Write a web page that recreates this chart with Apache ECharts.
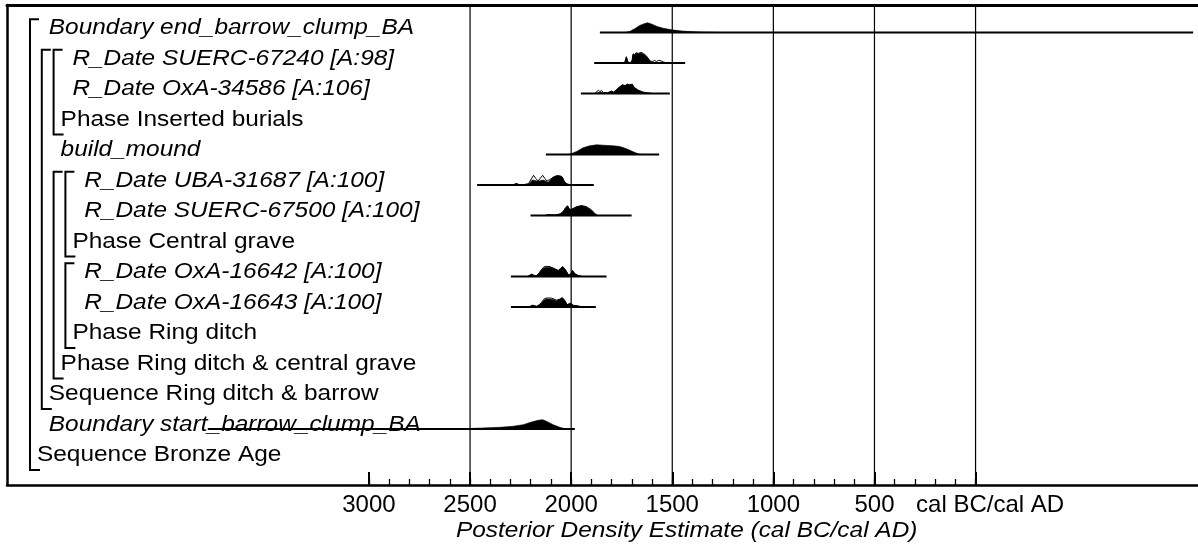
<!DOCTYPE html>
<html>
<head>
<meta charset="utf-8">
<title>Posterior Density Estimate</title>
<style>
  html, body { margin: 0; padding: 0; background: #fff; }
  #chart { width: 1198px; height: 549px; }
</style>
<script src="https://cdn.jsdelivr.net/npm/echarts@6/dist/echarts.min.js"></script>
</head>
<body>
<div id="chart"></div>
<script>
// ---- Model rows, top to bottom (latest first, as OxCal lists them) ----
const rowNames = [
  'Boundary end_barrow_clump_BA',
  'R_Date SUERC-67240 [A:98]',
  'R_Date OxA-34586 [A:106]',
  'Phase Inserted burials',
  'build_mound',
  'R_Date UBA-31687 [A:100]',
  'R_Date SUERC-67500 [A:100]',
  'Phase Central grave',
  'R_Date OxA-16642 [A:100]',
  'R_Date OxA-16643 [A:100]',
  'Phase Ring ditch',
  'Phase Ring ditch & central grave',
  'Sequence Ring ditch & barrow',
  'Boundary start_barrow_clump_BA',
  'Sequence Bronze Age'
];
const rowKinds = ['Boundary', 'R_Date', 'R_Date', 'Phase', 'Date', 'R_Date', 'R_Date', 'Phase',
                  'R_Date', 'R_Date', 'Phase', 'Phase', 'Sequence', 'Boundary', 'Sequence'];
const rowDepth = [1, 3, 3, 2, 2, 4, 4, 3, 4, 4, 3, 2, 1, 1, 0];

// Groups: [first member row, label row]
const groupSpans = [[0, 14], [1, 12], [1, 3], [5, 11], [5, 7], [8, 10]];

// ---- Distributions (years cal BC; negative = cal AD) ----
const distRows = [0, 1, 2, 4, 5, 6, 8, 9, 13];
const distRanges = [
  [1858, -1076], [1886, 1436], [1952, 1512], [2125, 1565], [2465, 1888],
  [2201, 1701], [2298, 1825], [2298, 1878], [3797, 1982]
];

// Posterior densities: [cal BC, relative probability]
const postEndBoundary = [[1735,0],[1711,1],[1686,3.7],[1661,7],[1636,9],[1622,9.7],[1600,8.3],[1575,6],[1545,4.3],[1503,2.7],[1450,1.4],[1390,0.7],[1330,0.3],[1260,0]];
const postSUERC67240 = [[1745,0],[1735,0.5],[1727,6],[1719,0.8],[1705,0.3],[1698,3],[1694,8.7],[1686,8.2],[1678,9.7],[1668,9.2],[1655,10],[1642,8.7],[1630,7],[1618,4],[1610,1.5],[1600,0.5],[1585,0.3],[1560,0.2],[1530,0]];
const postOxA34586 = [[1880,0],[1867,0.8],[1855,1.2],[1840,0.5],[1820,0.5],[1809,1.5],[1800,2.3],[1790,1.3],[1775,4],[1759,6.7],[1746,8.7],[1734,7.7],[1723,9.3],[1710,8.7],[1698,9.3],[1688,6],[1669,3.3],[1644,1.3],[1620,0.5],[1600,0]];
const postBuildMound = [[2015,0],[2000,0.8],[1973,3],[1941,6.7],[1908,8.7],[1874,9.7],[1842,9.3],[1792,8.7],[1759,8],[1726,5.7],[1693,2.7],[1669,0.7],[1650,0]];
const postUBA31687 = [[2290,0],[2270,1.5],[2258,0.3],[2230,0.3],[2221,1],[2212,0.6],[2204,2],[2195,4.5],[2188,5],[2175,4.3],[2163,3.7],[2150,4.5],[2139,5],[2126,4],[2114,2.7],[2100,5.5],[2089,7.7],[2075,9],[2064,9.3],[2050,8.7],[2043,7.7],[2036,4.5],[2031,2.7],[2020,1],[2010,0.5],[1995,0.3],[1980,0]];
const postSUERC67500 = [[2130,0],[2114,0.8],[2080,0.5],[2055,1.5],[2040,3.7],[2030,7],[2018,9.7],[2010,7],[2006,5.7],[1993,6.7],[1973,8.7],[1949,9.7],[1924,8.3],[1899,5],[1883,1.7],[1870,0]];
const postOxA16642 = [[2215,0],[2196,2.3],[2180,0.8],[2171,1],[2158,3.5],[2146,6.7],[2130,9],[2105,9.3],[2086,8],[2064,6],[2052,8],[2043,10],[2035,8.5],[2026,6],[2016,2.5],[2010,1.3],[2000,3.5],[1993,6],[1982,2.7],[1965,1],[1945,0]];
const postOxA16643 = [[2210,0],[2191,1.7],[2171,0.7],[2158,2],[2146,4],[2135,6.7],[2122,8],[2097,7.7],[2072,6.3],[2056,7.7],[2044,9.3],[2031,6.3],[2020,2.3],[2003,3.7],[1990,1.7],[1965,1],[1945,0]];
const postStartBoundary = [[2650,0],[2501,0.5],[2352,1.7],[2287,2.7],[2237,4.3],[2196,7],[2163,8.7],[2141,9.3],[2122,7.7],[2089,4.3],[2056,1.7],[2031,0.3],[2015,0]];

// Unmodelled calibrated likelihoods (drawn as outlines)
const likeSUERC67240 = [[1745,0],[1735,0.5],[1727,6.3],[1719,0.8],[1705,0.3],[1698,3],[1694,9],[1686,8.7],[1678,10.3],[1668,9.6],[1655,10.5],[1642,9.5],[1630,7.5],[1618,4.5],[1610,2],[1598,1.5],[1588,2.5],[1578,1.5],[1568,2.6],[1556,2.2],[1545,1],[1530,0.3],[1515,0]];
const likeOxA34586 = [[1885,0],[1872,2],[1865,3.3],[1858,1.8],[1851,3],[1840,1],[1820,0.7],[1809,1.8],[1800,2.3],[1790,1.3],[1775,4],[1759,6.7],[1746,8.7],[1734,7.7],[1723,9.3],[1710,8.7],[1698,9.3],[1688,6],[1669,3.3],[1644,1.3],[1620,0.5],[1600,0]];
const likeUBA31687 = [[2290,0],[2270,1.5],[2258,0.3],[2230,0.3],[2221,1],[2212,1],[2200,5],[2186,9.7],[2175,6.5],[2163,4],[2152,7],[2141,9.7],[2130,6.5],[2119,4],[2105,5.5],[2089,7.7],[2075,9],[2064,9.3],[2050,8.7],[2043,7.7],[2036,4.5],[2031,2.7],[2020,1],[2010,0.5],[1995,0.3],[1980,0]];
const likeSUERC67500 = [[2130,0],[2114,0.8],[2080,0.5],[2055,1.5],[2040,3.7],[2030,7],[2018,9.7],[2010,7],[2006,5.7],[1993,6.7],[1973,8.7],[1949,9.9],[1924,8.8],[1899,5.5],[1883,1.9],[1870,0]];
const likeOxA16642 = [[2215,0],[2196,2.3],[2180,0.8],[2171,1],[2158,3.7],[2146,7.2],[2135,9.6],[2120,10.2],[2105,9.8],[2086,8.2],[2064,6],[2052,8],[2043,10],[2035,8.5],[2026,6],[2016,2.5],[2010,1.3],[2000,3.5],[1993,6],[1982,2.7],[1965,1],[1945,0]];
const likeOxA16643 = [[2210,0],[2191,1.7],[2171,0.7],[2158,2.2],[2146,4.8],[2135,7.8],[2122,9],[2097,8.9],[2072,6.8],[2056,7.9],[2044,9.3],[2031,6.3],[2020,2.3],[2003,3.7],[1990,1.7],[1965,1],[1945,0]];

const posteriors = [postEndBoundary, postSUERC67240, postOxA34586, postBuildMound, postUBA31687,
                    postSUERC67500, postOxA16642, postOxA16643, postStartBoundary];
const likelihoods = [null, likeSUERC67240, likeOxA34586, null, likeUBA31687,
                     likeSUERC67500, likeOxA16642, likeOxA16643, null];

// ---- Axis ----
const tickYears = [3000, 2500, 2000, 1500, 1000, 500, 0];
const tickLabels = ['3000', '2500', '2000', '1500', '1000', '500', 'cal BC/cal AD'];
const gridYears = [2500, 2000, 1500, 1000, 500, 0];
const axisTitle = 'Posterior Density Estimate (cal BC/cal AD)';

// ---- Layout ----
const X_MIN = -4790, X_MAX = 1100;          // axis value = -(cal BC)
const Y_MIN = -0.9016, Y_MAX = 14.836;      // row index, top to bottom
const ROW_PX = 30.5;
const DENS = 1 / ROW_PX;                    // density unit -> rows
const FONT = "'Liberation Sans', Arial, Helvetica, sans-serif";
const LABEL_X0 = 37, LABEL_STEP = 11.8, TEXT_SCALE = 1.11;

const majorTicks = tickYears.map(y => -y);
const minorTicks = [];
for (let y = 3000; y >= 0; y -= 100) minorTicks.push(-y);

const chart = echarts.init(document.getElementById('chart'), null, { renderer: 'canvas' });

const italicKinds = { Boundary: true, R_Date: true, Date: true };

chart.setOption({
  animation: false,
  backgroundColor: '#fff',
  grid: { left: 7, right: 0, top: 5, bottom: 64, outerBoundsMode: 'none' },
  xAxis: [
    {
      type: 'value', min: X_MIN, max: X_MAX, position: 'bottom',
      axisLine: { show: true, onZero: false, lineStyle: { color: '#000', width: 2.5 } },
      axisTick: { show: true, inside: true, length: 13, customValues: majorTicks,
                  lineStyle: { color: '#000', width: 2 } },
      axisLabel: {
        show: true, customValues: majorTicks, margin: 8, color: '#000',
        fontFamily: FONT, fontSize: 24,
        formatter: v => {
          const i = tickYears.indexOf(-v);
          if (i < 0) return '';
          return tickYears[i] === 0 ? '{ad|' + tickLabels[i] + '}' : tickLabels[i];
        },
        rich: { ad: { padding: [0, 0, 0, 29], fontFamily: FONT, fontSize: 24, color: '#000' } }
      },
      splitLine: { show: false }
    },
    {
      type: 'value', min: X_MIN, max: X_MAX, position: 'bottom',
      axisLine: { show: false, onZero: false },
      axisTick: { show: true, inside: true, length: 6, customValues: minorTicks,
                  lineStyle: { color: '#000', width: 1.3 } },
      axisLabel: { show: false },
      splitLine: { show: false }
    },
    {
      type: 'value', min: X_MIN, max: X_MAX, position: 'top',
      axisLine: { show: true, onZero: false, lineStyle: { color: '#000', width: 3 } },
      axisTick: { show: false }, axisLabel: { show: false }, splitLine: { show: false }
    }
  ],
  yAxis: {
    type: 'value', min: Y_MIN, max: Y_MAX, inverse: true,
    axisLine: { show: true, onZero: false, lineStyle: { color: '#000', width: 2.5 } },
    axisTick: { show: false }, axisLabel: { show: false }, splitLine: { show: false }
  },
  graphic: [{
    type: 'text', x: 456, y: 530.5, scaleX: TEXT_SCALE, z: 10,
    style: { text: axisTitle, fontFamily: FONT, fontSize: 22, fontStyle: 'italic',
             fill: '#000', align: 'left', verticalAlign: 'middle' }
  }],
  series: [
    // vertical reference lines at every 500 years
    {
      type: 'custom', xAxisIndex: 0, yAxisIndex: 0, z: 1, silent: true,
      data: gridYears.map(y => [-y, 0]),
      renderItem: (params, api) => {
        const top = api.coord([api.value(0), Y_MIN]);
        const bot = api.coord([api.value(0), Y_MAX]);
        return { type: 'line', shape: { x1: top[0], y1: top[1], x2: bot[0], y2: bot[1] },
                 style: { stroke: '#000', lineWidth: 1.2 } };
      }
    },
    // row labels
    {
      type: 'custom', xAxisIndex: 0, yAxisIndex: 0, z: 2, silent: true,
      data: rowNames.map((n, i) => [X_MIN, i]),
      renderItem: (params, api) => {
        const r = params.dataIndex;
        const y = api.coord([X_MIN, api.value(1)])[1] - 4.5;
        return {
          type: 'text', x: LABEL_X0 + LABEL_STEP * rowDepth[r], y: y, scaleX: TEXT_SCALE,
          style: { text: rowNames[r], fontFamily: FONT, fontSize: 22,
                   fontStyle: italicKinds[rowKinds[r]] ? 'italic' : 'normal',
                   fill: '#000', align: 'left', verticalAlign: 'middle' }
        };
      }
    },
    // group brackets
    {
      type: 'custom', xAxisIndex: 0, yAxisIndex: 0, z: 3, silent: true,
      data: groupSpans.map(g => [X_MIN, g[0], g[1]]),
      renderItem: (params, api) => {
        const first = api.value(1), last = api.value(2);
        const bx = LABEL_X0 + LABEL_STEP * rowDepth[last] - 7;
        const yTop = api.coord([X_MIN, first])[1] - 13.3;
        const yBot = api.coord([X_MIN, last])[1] + 10.5;
        return {
          type: 'polyline',
          shape: { points: [[bx + 9, yTop], [bx, yTop], [bx, yBot], [bx + 10, yBot]] },
          style: { stroke: '#000', lineWidth: 2, fill: null, lineJoin: 'miter' }
        };
      }
    },
    // posterior densities, likelihood outlines and range lines
    {
      type: 'custom', xAxisIndex: 0, yAxisIndex: 0, z: 4, silent: true,
      data: distRows.map((r, i) => [-distRanges[i][0], r]),
      renderItem: (params, api) => {
        const i = params.dataIndex;
        const row = api.value(1);
        const pt = (bc, h) => api.coord([-bc, row - h * DENS]);
        const children = [];
        children.push({
          type: 'polygon',
          shape: { points: posteriors[i].map(d => pt(d[0], d[1])) },
          style: { fill: '#000', stroke: '#000', lineWidth: 0.6 }
        });
        if (likelihoods[i]) {
          children.push({
            type: 'polyline',
            shape: { points: likelihoods[i].map(d => pt(d[0], d[1])) },
            style: { stroke: '#000', lineWidth: 1, fill: null }
          });
        }
        const a = pt(distRanges[i][0], 0), b = pt(distRanges[i][1], 0);
        children.push({
          type: 'line', shape: { x1: a[0], y1: a[1], x2: b[0], y2: b[1] },
          style: { stroke: '#000', lineWidth: 2 }
        });
        return { type: 'group', children: children };
      }
    }
  ]
});
</script>
</body>
</html>
